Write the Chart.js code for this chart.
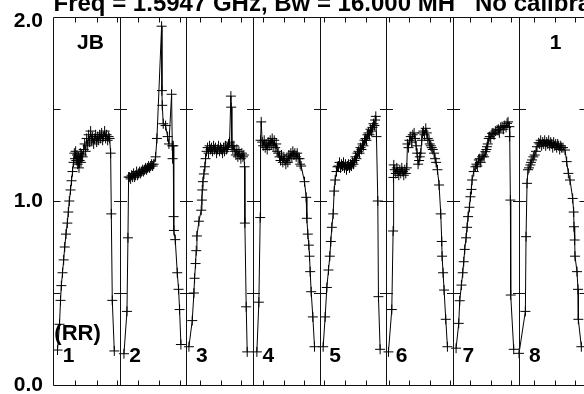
<!DOCTYPE html>
<html>
<head>
<meta charset="utf-8">
<script src="https://cdn.jsdelivr.net/npm/chart.js@4/dist/chart.umd.min.js"></script>
<style>
  html, body { margin: 0; padding: 0; background: #fff; overflow: hidden; }
  #wrap { width: 584px; height: 394px; overflow: hidden; }
</style>
</head>
<body>
<div id="wrap"><canvas id="myChart" width="600" height="394"></canvas></div>
<script>
// time axis: each scan occupies 10 units, 8 scans side by side
var scanEdges = [10, 20, 30, 40, 50, 60, 70];
var scanNames = ['1', '2', '3', '4', '5', '6', '7', '8'];
var timeTicks = [3.3, 6.55, 9.55, 12.8, 15.95, 19.05, 22.05, 25.15, 28.2, 31.55, 34.65, 37.7,
  40.65, 43.9, 46.95, 50.4, 53.45, 56.55, 59.55, 62.65, 65.7, 68.8, 72.15, 75.3, 78.4];
var ampTicks = [0.5, 1.0, 1.5];
var yLabels = [0, 1, 2];

var t1 = [0.68, 0.98, 1.13, 1.25, 1.43, 1.6, 1.76, 1.95, 2.15, 2.3, 2.45, 2.63, 2.78, 2.93, 3.08,
  3.2, 3.3, 3.4, 3.5, 3.6, 3.7, 3.8, 3.9, 4.0, 4.1, 4.2, 4.3, 4.45,
  4.6, 4.75, 4.9, 5.05, 5.2, 5.35, 5.5,
  5.65, 5.8, 5.95, 6.1, 6.25, 6.4, 6.55, 6.7, 6.85, 7.0, 7.15, 7.3, 7.45, 7.6, 7.75, 7.9, 8.05, 8.2, 8.35, 8.5,
  8.65, 8.75, 8.9, 9.2];
var a1 = [0.19, 0.33, 0.46, 0.54, 0.61, 0.68, 0.75, 0.82, 0.88, 0.94, 1.00, 1.06, 1.11, 1.16, 1.21,
  1.26, 1.23, 1.27, 1.22, 1.25, 1.20, 1.24, 1.18, 1.22, 1.26, 1.21, 1.25, 1.24,
  1.28, 1.31, 1.27, 1.34, 1.30, 1.36, 1.32,
  1.38, 1.33, 1.35, 1.31, 1.34, 1.36, 1.32, 1.35, 1.33, 1.36, 1.34, 1.37, 1.33, 1.35, 1.38, 1.34, 1.36, 1.33, 1.35, 1.34,
  1.26, 0.93, 0.46, 0.185];

var t2 = [10.65, 11.1, 11.25, 11.35,
  11.5, 11.65, 11.8, 11.95, 12.1, 12.25, 12.4, 12.55, 12.7, 12.85, 13.0, 13.15, 13.3, 13.45, 13.6, 13.75,
  13.9, 14.05, 14.2, 14.35, 14.5, 14.65, 14.8, 14.95, 15.1,
  15.4, 15.6, 16.3, 16.35, 16.4, 16.55, 16.9, 17.2, 17.4, 17.8, 17.9, 17.95, 18.05,
  18.1, 18.15, 18.35, 18.65, 18.85, 19.0, 19.2];
var a2 = [0.17, 0.40, 0.80, 1.13,
  1.13, 1.12, 1.14, 1.13, 1.15, 1.13, 1.14, 1.16, 1.14, 1.15, 1.16, 1.15, 1.16, 1.17, 1.16, 1.17,
  1.18, 1.17, 1.18, 1.19, 1.18, 1.19, 1.20, 1.19, 1.20,
  1.24, 1.34, 1.95, 1.60, 1.52, 1.42, 1.41, 1.35, 1.31, 1.58, 1.30, 1.23, 1.30,
  0.915, 0.84, 0.79, 0.61, 0.52, 0.41, 0.22];

var t3 = [20.4, 20.9, 21.15, 21.25, 21.4, 21.5, 21.6, 21.9, 22.25, 22.35, 22.4, 22.5, 22.65, 22.8, 22.9,
  23.05, 23.2, 23.35, 23.5, 23.65, 23.8, 23.95, 24.1, 24.25, 24.4, 24.55, 24.7, 24.85, 25.0, 25.15, 25.3,
  25.45, 25.6, 25.75, 25.9, 26.05, 26.2, 26.35, 26.5, 26.7, 26.75, 26.85, 27.0, 27.15, 27.3, 27.45, 27.6,
  27.75, 27.9, 28.05, 28.2, 28.35, 28.5, 28.65,
  28.75, 28.8, 29.0, 29.15];
var a3 = [0.208, 0.35, 0.50, 0.58, 0.66, 0.73, 0.81, 0.89, 0.95, 1.005, 1.06, 1.105, 1.147, 1.186, 1.23,
  1.27, 1.29, 1.26, 1.30, 1.28, 1.29, 1.27, 1.30, 1.28, 1.29, 1.26, 1.28, 1.30, 1.27, 1.29, 1.28,
  1.26, 1.29, 1.27, 1.30, 1.28, 1.29, 1.31, 1.32, 1.57, 1.51, 1.30, 1.28, 1.30, 1.27, 1.25, 1.28,
  1.24, 1.27, 1.25, 1.23, 1.26, 1.24, 1.25,
  1.186, 0.88, 0.425, 0.18];

var t4 = [30.6, 30.9, 31.1, 31.15, 31.25,
  31.4, 31.55, 31.7, 31.85, 32.0, 32.15, 32.3, 32.45, 32.6, 32.75, 32.9, 33.05, 33.2, 33.35, 33.5, 33.65,
  33.8, 34.0, 34.15, 34.3, 34.5, 34.65, 34.8, 34.95, 35.1, 35.25, 35.4, 35.55, 35.7, 35.85, 36.0, 36.15,
  36.3, 36.5, 36.65, 36.8, 37.0, 37.1, 37.25,
  37.75, 38.0, 38.1, 38.25, 38.4, 38.5, 38.6, 38.75, 39.0, 39.25];
var a4 = [0.18, 0.45, 0.91, 1.33, 1.43,
  1.32, 1.30, 1.33, 1.29, 1.31, 1.28, 1.32, 1.30, 1.33, 1.31, 1.34, 1.30, 1.33, 1.29, 1.31, 1.27,
  1.26, 1.24, 1.22, 1.25, 1.21, 1.24, 1.22, 1.20, 1.23, 1.21, 1.25, 1.23, 1.26, 1.24, 1.27, 1.25,
  1.26, 1.24, 1.26, 1.23, 1.23, 1.20, 1.19,
  1.105, 1.02, 0.906, 0.82, 0.76, 0.70, 0.616, 0.507, 0.37, 0.208];

var t5 = [40.55, 40.85, 41.1, 41.35, 41.55, 41.7, 41.85, 42.05, 42.2, 42.35, 42.55, 42.7,
  42.85, 43.0, 43.15, 43.3, 43.45, 43.6, 43.75, 43.9, 44.05, 44.2, 44.35, 44.5, 44.65, 44.8, 44.95, 45.1,
  45.25, 45.4, 45.55, 45.7, 45.85, 46.0, 46.15, 46.3, 46.45, 46.6, 46.75, 46.9, 47.05, 47.2, 47.35, 47.5,
  47.65, 47.8, 47.95, 48.1, 48.25, 48.35, 48.45, 48.55,
  48.75, 48.85, 49.1];
var a5 = [0.208, 0.37, 0.53, 0.625, 0.70, 0.78, 0.857, 0.93, 1.054, 1.114, 1.16, 1.186,
  1.19, 1.21, 1.18, 1.20, 1.19, 1.21, 1.18, 1.20, 1.17, 1.19, 1.20, 1.18, 1.20, 1.19, 1.21, 1.20,
  1.22, 1.24, 1.23, 1.26, 1.27, 1.26, 1.29, 1.28, 1.31, 1.30, 1.33, 1.34, 1.33, 1.36, 1.37, 1.36,
  1.39, 1.38, 1.40, 1.42, 1.41, 1.44, 1.46, 1.35,
  1.0, 0.48, 0.194];

var t6 = [50.35, 50.85, 51.05, 51.1, 51.15,
  51.3, 51.45, 51.6, 51.75, 51.9, 52.05, 52.2, 52.35, 52.5, 52.65, 52.8, 52.95, 53.1,
  53.2, 53.35, 53.5, 53.7, 53.85, 54.0, 54.2, 54.35, 54.5, 54.65, 54.8, 54.95, 55.05, 55.2, 55.35, 55.45,
  55.6, 55.75, 55.95, 56.1, 56.25, 56.45, 56.55, 56.7, 56.85, 57.0, 57.2, 57.35, 57.5, 57.7, 57.95,
  58.2, 58.35, 58.4, 58.55, 58.7, 58.95, 59.2];
var a6 = [0.18, 0.41, 0.837, 1.128, 1.196,
  1.17, 1.15, 1.18, 1.16, 1.14, 1.17, 1.15, 1.18, 1.16, 1.14, 1.17, 1.15, 1.18,
  1.31, 1.29, 1.33, 1.35, 1.32, 1.36, 1.37, 1.34, 1.30, 1.26, 1.20, 1.22, 1.24, 1.26, 1.33, 1.37,
  1.38, 1.36, 1.395, 1.37, 1.34, 1.33, 1.31, 1.30, 1.29, 1.28, 1.26, 1.23, 1.21, 1.17, 1.087,
  0.93, 0.78, 0.70, 0.61, 0.516, 0.357, 0.208];

var t7 = [60.5, 60.9, 61.05, 61.3, 61.5, 61.65, 61.8, 62.0, 62.15, 62.3, 62.5, 62.65, 62.8, 62.9, 63.15,
  63.4, 63.55, 63.7, 63.9, 64.05, 64.2, 64.4, 64.55, 64.7, 64.9, 65.05, 65.15, 65.25, 65.4, 65.55, 65.7,
  65.9, 66.05, 66.2, 66.4, 66.65, 66.85, 67.0, 67.2, 67.4, 67.6, 67.8, 68.0, 68.15, 68.3, 68.5, 68.55,
  68.65, 68.7, 69.15];
var a7 = [0.2, 0.335, 0.458, 0.543, 0.61, 0.67, 0.737, 0.80, 0.857, 0.915, 0.966, 1.023, 1.063, 1.114, 1.16,
  1.186, 1.20, 1.19, 1.223, 1.23, 1.21, 1.24, 1.25, 1.24, 1.268, 1.28, 1.295, 1.31, 1.34, 1.35, 1.34,
  1.368, 1.37, 1.36, 1.38, 1.386, 1.39, 1.37, 1.40, 1.404, 1.39, 1.41, 1.40, 1.422, 1.43, 1.404, 1.35,
  1.005, 0.489, 0.194];

var t8 = [69.95, 70.9, 71.0, 71.15, 71.3, 71.45, 71.65, 71.75, 71.9, 72.1, 72.3, 72.5, 72.65, 72.9,
  73.05, 73.2, 73.35, 73.5, 73.65, 73.8, 73.95, 74.1, 74.25, 74.4, 74.55, 74.7, 74.85, 75.0, 75.15, 75.3,
  75.45, 75.6, 75.75, 75.9, 76.05, 76.2, 76.35, 76.55,
  76.85, 77.1, 77.35, 77.6, 78.0, 78.15, 78.2, 78.3, 78.35, 78.65, 78.8, 78.85, 79.3];
var a8 = [0.172, 0.40, 0.806, 1.096, 1.17, 1.18, 1.196, 1.21, 1.223, 1.24, 1.25, 1.27, 1.295, 1.317,
  1.31, 1.33, 1.30, 1.32, 1.31, 1.33, 1.30, 1.32, 1.31, 1.33, 1.30, 1.32, 1.31, 1.29, 1.32, 1.30,
  1.31, 1.29, 1.31, 1.30, 1.28, 1.30, 1.29, 1.29,
  1.277, 1.214, 1.15, 1.114, 1.014, 0.94, 0.86, 0.788, 0.70, 0.616, 0.52, 0.357, 0.208];

var scanTimes = [t1, t2, t3, t4, t5, t6, t7, t8];
var scanAmps = [a1, a2, a3, a4, a5, a6, a7, a8];

var FONT = "'Liberation Sans', Arial, Helvetica, sans-serif";

// frame, scan dividers and inward ticks, plus the text labels
var framePlugin = {
  id: 'frame',
  afterDatasetsDraw(chart) {
    var c = chart.ctx, xs = chart.scales.x, ys = chart.scales.y;
    var a = chart.chartArea;
    var L = Math.round(a.left) + 0.5, R = Math.round(a.right) + 0.5;
    var T = Math.round(a.top) + 0.5, B = Math.round(a.bottom) + 0.5;
    c.save();
    c.strokeStyle = '#111';
    c.lineWidth = 1;
    c.beginPath();
    c.rect(L, T, R - L, B - T);
    scanEdges.forEach(function (e) {
      var px = Math.round(xs.getPixelForValue(e)) + 0.5;
      c.moveTo(px, T); c.lineTo(px, B);
    });
    timeTicks.forEach(function (t) {
      var px = Math.round(xs.getPixelForValue(t)) + 0.5;
      c.moveTo(px, T); c.lineTo(px, T + 5);
      c.moveTo(px, B); c.lineTo(px, B - 5);
    });
    ampTicks.forEach(function (v) {
      var py = Math.round(ys.getPixelForValue(v)) + 0.5;
      c.moveTo(L, py); c.lineTo(L + 7, py);
      c.moveTo(R, py); c.lineTo(R - 7, py);
      scanEdges.forEach(function (e) {
        var px = Math.round(xs.getPixelForValue(e)) + 0.5;
        c.moveTo(px - 6.5, py); c.lineTo(px + 6.5, py);
      });
    });
    c.stroke();

    c.fillStyle = '#000';
    c.textBaseline = 'middle';
    // amplitude labels
    c.textAlign = 'right';
    c.font = 'bold 21px ' + FONT;
    yLabels.forEach(function (v) {
      c.fillText(v.toFixed(1), a.left - 10, Math.max(ys.getPixelForValue(v), 21));
    });

    c.textAlign = 'left';
    c.fillText('JB', xs.getPixelForValue(3.6), ys.getPixelForValue(1.86));
    c.fillText('1', xs.getPixelForValue(74.55), ys.getPixelForValue(1.86));
    c.font = 'bold 22px ' + FONT;
    c.fillText('(RR)', xs.getPixelForValue(0.2), ys.getPixelForValue(0.28));
    c.font = 'bold 21px ' + FONT;
    scanNames.forEach(function (n, i) {
      c.fillText(n, xs.getPixelForValue(i * 10 + 1.45), ys.getPixelForValue(0.155));
    });

    // title, cut off by the top of the picture
    c.textBaseline = 'alphabetic';
    c.font = 'bold 24px ' + FONT;
    c.fillText('Freq = 1.5947 GHz, Bw = 16.000 MH   No calibration applied', L, 11);
    c.restore();
  }
};

var ctx = document.getElementById('myChart').getContext('2d');

var datasets = scanTimes.map(function (ts, i) {
  return {
    data: ts.map(function (t, j) { return { x: t, y: scanAmps[i][j] }; }),
    borderColor: '#000',
    borderWidth: 1,
    pointStyle: 'cross',
    pointRadius: 5,
    pointBorderColor: '#000',
    pointBorderWidth: 1,
    pointHoverRadius: 0,
    tension: 0,
    fill: false
  };
});

var myChart = new Chart(ctx, {
  type: 'line',
  data: { datasets: datasets },
  options: {
    responsive: false,
    animation: false,
    events: [],
    layout: { padding: { top: 17, right: 14, bottom: 9, left: 53 } },
    plugins: { legend: { display: false }, tooltip: { enabled: false } },
    scales: {
      x: { type: 'linear', min: 0, max: 80, display: false },
      y: { min: 0, max: 2, display: false }
    }
  },
  plugins: [framePlugin]
});
</script>
</body>
</html>
